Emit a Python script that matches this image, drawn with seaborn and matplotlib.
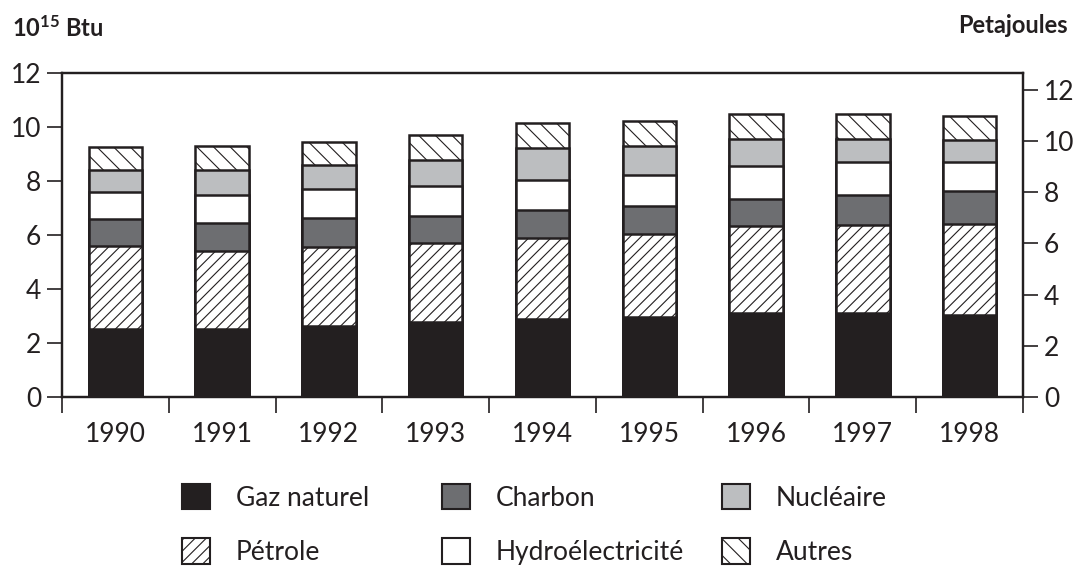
import matplotlib
matplotlib.use("Agg")
import matplotlib.pyplot as plt
import matplotlib.patches as mpatches
import numpy as np
import pandas as pd
import seaborn as sns

# consommation d'énergie, 10^15 Btu
years = ["1990", "1991", "1992", "1993", "1994", "1995", "1996", "1997", "1998"]
gaz = [2.52, 2.51, 2.63, 2.79, 2.88, 2.97, 3.12, 3.10, 3.03]
petrole = [3.06, 2.90, 2.93, 2.91, 3.02, 3.08, 3.20, 3.26, 3.37]
charbon = [1.03, 1.05, 1.08, 0.99, 1.04, 1.01, 1.02, 1.14, 1.23]
hydro = [1.00, 1.04, 1.07, 1.11, 1.11, 1.18, 1.23, 1.20, 1.09]
nucleaire = [0.81, 0.89, 0.89, 0.98, 1.16, 1.05, 0.99, 0.86, 0.80]
autres = [0.83, 0.90, 0.86, 0.91, 0.93, 0.92, 0.92, 0.92, 0.90]

BTU_TO_PJ = 1.055

ink = "#231f20"
series = [
    ("Gaz naturel", gaz, ink, None),
    ("Pétrole", petrole, "white", "///"),
    ("Charbon", charbon, "#6d6e71", None),
    ("Hydroélectricité", hydro, "white", None),
    ("Nucléaire", nucleaire, "#bcbec0", None),
    ("Autres", autres, "white", "\\\\"),
]

sns.set_style("ticks")
plt.rcParams["font.family"] = ["Lato", "DejaVu Sans"]
plt.rcParams["mathtext.fontset"] = "custom"
plt.rcParams["mathtext.bf"] = "Lato:bold"
plt.rcParams["mathtext.rm"] = "Lato"
plt.rcParams["hatch.linewidth"] = 0.8
plt.rcParams["hatch.color"] = ink

fig = plt.figure(figsize=(10.8, 5.71), dpi=100)
ax = fig.add_axes([62 / 1080, 1 - 397 / 571, (1023 - 62) / 1080, (397 - 73) / 571])

df = pd.DataFrame({"year": years})
cum = np.zeros(len(years))
cums = []
for name, vals, fc, hatch in series:
    cum = cum + np.array(vals)
    cums.append(cum.copy())

# draw from the top layer down so each lower layer covers the one above
for (name, vals, fc, hatch), c in reversed(list(zip(series, cums))):
    df["v"] = c
    sns.barplot(data=df, x="year", y="v", color=fc, saturation=1, width=0.5,
                edgecolor=ink, linewidth=1.8, hatch=hatch, ax=ax)

ax.set_xlim(-0.5, len(years) - 0.5)
ax.set_ylim(0, 12)
ax.set_yticks(range(0, 13, 2))
ax.set_xlabel("")
ax.set_ylabel("")
ax.set_xticks(np.arange(-0.5, len(years), 1), minor=True)
ax.tick_params(axis="x", which="major", length=0, pad=18, labelsize=19, colors=ink)
ax.tick_params(axis="x", which="minor", length=11.5, width=1.2, color=ink, direction="out")
ax.tick_params(axis="y", length=11, width=1.2, pad=4, labelsize=19, colors=ink)
for s in ax.spines.values():
    s.set_visible(True)
    s.set_linewidth(1.6)
    s.set_color(ink)

ax2 = ax.twinx()
ax2.set_ylim(0, 12 * BTU_TO_PJ)
ax2.set_yticks(range(0, 13, 2))
ax2.tick_params(axis="y", length=11, width=1.2, pad=4, labelsize=19, colors=ink)
for s in ax2.spines.values():
    s.set_linewidth(1.6)
    s.set_color(ink)

fig.text(12 / 1080, 1 - 37 / 571, r"$\mathbf{10^{15}}$ Btu", fontsize=17,
         fontweight="bold", color=ink, va="baseline")
fig.text(1068 / 1080, 1 - 33 / 571, "Petajoules", fontsize=17,
         fontweight="bold", color=ink, va="baseline", ha="right")

handles = {name: mpatches.Patch(facecolor=fc, edgecolor=ink, hatch=hatch, linewidth=1.5)
           for name, vals, fc, hatch in series}
columns = [("Gaz naturel", "Pétrole"), ("Charbon", "Hydroélectricité"), ("Nucléaire", "Autres")]
col_x = [182, 442, 722]
for labels, x in zip(columns, col_x):
    fig.legend([handles[l] for l in labels], labels, loc="upper left",
               bbox_to_anchor=(x / 1080, 1 - 484 / 571), frameon=False,
               fontsize=19, handlelength=1.05, handleheight=1.1,
               handletextpad=1.0, labelspacing=1.05, borderpad=0,
               borderaxespad=0, labelcolor=ink)

fig.savefig("out.png", dpi=100)
